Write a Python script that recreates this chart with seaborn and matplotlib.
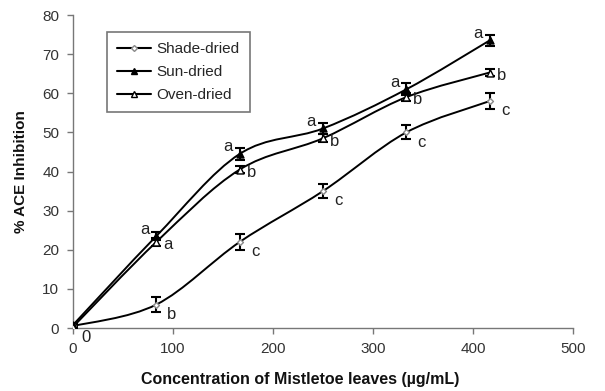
import numpy as np
import pandas as pd
import matplotlib
matplotlib.use("Agg")
import matplotlib.pyplot as plt
from matplotlib.path import Path
from matplotlib.patches import PathPatch
from matplotlib.lines import Line2D
import seaborn as sns

conc = [0, 83.3, 166.7, 250, 333.3, 416.7]
shade = [0.5, 6.0, 22.0, 35.0, 50.0, 58.0]
shade_err = [0.6, 2.0, 2.0, 1.8, 1.8, 2.0]
sun = [0.8, 23.5, 44.5, 51.0, 61.0, 73.5]
sun_err = [0.5, 1.0, 1.5, 1.5, 1.5, 1.5]
oven = [0.3, 22.0, 40.5, 48.5, 59.0, 65.3]
oven_err = [0.5, 1.0, 1.0, 1.0, 1.0, 1.0]
shade_lbl = ["0", "b", "c", "c", "c", "c"]
sun_lbl = ["", "a", "a", "a", "a", "a"]
oven_lbl = ["", "a", "b", "b", "b", "b"]

sns.set_style("ticks")
plt.rcParams["font.family"] = ["Liberation Sans", "DejaVu Sans"]

fig = plt.figure(figsize=(6.05, 3.91), dpi=100)
ax = fig.add_axes([0.1207, 0.161, 0.8263, 0.8006])


def smooth_path(x, y):
    x = np.asarray(x, float); y = np.asarray(y, float)
    verts = [(x[0], y[0])]
    codes = [Path.MOVETO]
    n = len(x)
    for i in range(n - 1):
        p0 = np.array([x[max(i - 1, 0)], y[max(i - 1, 0)]])
        p1 = np.array([x[i], y[i]])
        p2 = np.array([x[i + 1], y[i + 1]])
        p3 = np.array([x[min(i + 2, n - 1)], y[min(i + 2, n - 1)]])
        c1 = p1 + (p2 - p0) / 6.0
        c2 = p2 - (p3 - p1) / 6.0
        verts += [tuple(c1), tuple(c2), tuple(p2)]
        codes += [Path.CURVE4] * 3
    return Path(verts, codes)

series = [
    ("Shade-dried", shade, shade_err, "D", 3, "white", "#888888"),
    ("Sun-dried", sun, sun_err, "^", 5, "black", "black"),
    ("Oven-dried", oven, oven_err, "^", 5, "white", "black"),
]

for name, vals, err, mk, ms, fc, ec in series:
    ax.add_patch(PathPatch(smooth_path(conc, vals), fill=False, lw=1.4, ec="black", zorder=2))
    ax.errorbar(conc, vals, yerr=err, fmt="none", ecolor="black", elinewidth=1.5,
                capsize=3.5, capthick=1.5, zorder=3)
    df = pd.DataFrame({"x": conc, "y": vals})
    sns.scatterplot(data=df, x="x", y="y", marker=mk, s=ms ** 2, color=fc,
                    edgecolor=ec, linewidth=1, ax=ax, zorder=4)

fs = 12
tc = "#222222"
for x, y, t in zip(conc, shade, shade_lbl):
    ax.annotate(t, (x, y), xytext=(8, -7) if t != "0" else (6, -8), textcoords="offset points",
                fontsize=fs, va="center", ha="left", color=tc)
for x, y, t in zip(conc, sun, sun_lbl):
    if t:
        ax.annotate(t, (x, y), xytext=(-5, 5), textcoords="offset points",
                    fontsize=fs, va="center", ha="right", color=tc)
for x, y, t in zip(conc, oven, oven_lbl):
    if t:
        ax.annotate(t, (x, y), xytext=(5, -2), textcoords="offset points",
                    fontsize=fs, va="center", ha="left", color=tc)

ax.set_xlim(0, 500)
ax.set_ylim(0, 80)
ax.set_xticks(range(0, 501, 100))
ax.set_yticks(range(0, 81, 10))
ax.tick_params(labelsize=11, direction="out", length=4, color="#777777", width=1,
               labelcolor="#333333", pad=6)
for s in ["left", "bottom"]:
    ax.spines[s].set_color("#777777")
    ax.spines[s].set_linewidth(1)
sns.despine(ax=ax)
ax.set_xlabel("Concentration of Mistletoe leaves (µg/mL)", fontsize=11.5, fontweight="bold",
              color="#111111")
ax.xaxis.set_label_coords(0.454, -0.14)
ax.set_ylabel("% ACE Inhibition", fontsize=11, fontweight="bold", labelpad=10, color="#111111")

handles = [Line2D([], [], color="black", lw=1.5, marker=mk, markersize=ms,
                  markerfacecolor=fc, markeredgecolor=ec) for _, _, _, mk, ms, fc, ec in series]
leg = ax.legend(handles, [s[0] for s in series], loc="upper left", bbox_to_anchor=(0.068, 0.946),
                borderaxespad=0, fontsize=11, frameon=True, fancybox=False, handlelength=2.2,
                handletextpad=0.4, borderpad=0.65, labelspacing=0.6)
leg.get_frame().set_edgecolor("#555555")
leg.get_frame().set_linewidth(1.2)

fig.savefig("out.png", dpi=100)
